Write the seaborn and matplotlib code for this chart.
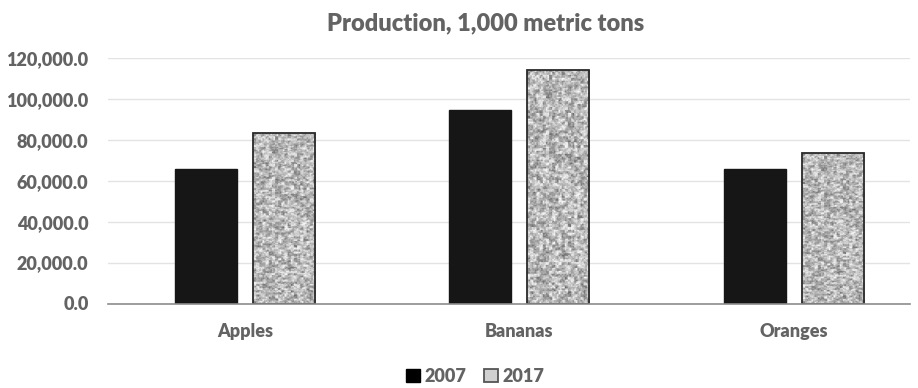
import numpy as np
import pandas as pd
import matplotlib
matplotlib.use("Agg")
import matplotlib.pyplot as plt
import seaborn as sns
from matplotlib.patches import Patch

categories = ["Apples", "Bananas", "Oranges"]
years = ["2007", "2017"]
values_2007 = [65900, 94500, 65600]
values_2017 = [83300, 114100, 73500]
yticks = [0, 20000, 40000, 60000, 80000, 100000, 120000]

df = pd.DataFrame({
    "fruit": categories * 2,
    "year": [years[0]] * 3 + [years[1]] * 3,
    "value": values_2007 + values_2017,
})

sns.set_style("white")
plt.rcParams["font.family"] = ["Lato", "DejaVu Sans"]
W = "heavy"
TXT = "#636363"

fig = plt.figure(figsize=(9.18, 3.88), dpi=100)
ax = fig.add_axes([108 / 918, 1 - 303.5 / 388, 802 / 918, 245.5 / 388])

sns.barplot(data=df, x="fruit", y="value", hue="year", palette=["#161616", "#c4c4c4"],
            width=0.569, gap=0.204, ax=ax, legend=False, saturation=1)

XLIM = (-0.5, 2.424)
ax.set_ylim(0, 120000)
ax.set_xlim(*XLIM)
ax.set_yticks(yticks)
ax.set_yticklabels([f"{v:,.1f}" for v in yticks])
ax.yaxis.grid(True, color="#e3e3e3", linewidth=1)
ax.set_axisbelow(True)
for s in ["top", "right", "left"]:
    ax.spines[s].set_visible(False)
ax.spines["bottom"].set_color("#8c8c8c")
ax.spines["bottom"].set_linewidth(1.2)
ax.tick_params(axis="both", length=0, colors=TXT, labelsize=13)
ax.tick_params(axis="y", pad=14)
ax.tick_params(axis="x", pad=14)
for lab in ax.get_xticklabels() + ax.get_yticklabels():
    lab.set_fontweight(W)
    lab.set_color(TXT)
ax.set_xlabel("")
ax.set_ylabel("")

# stipple texture for 2017 bars (decorative only)
rng = np.random.default_rng(3)
coarse = rng.random((80, 20))
mid = rng.random((160, 40))
fine = rng.random((320, 80))
tex = (0.45 * np.kron(coarse, np.ones((4, 4))) + 0.35 * np.kron(mid, np.ones((2, 2)))
       + 0.2 * fine)
tex = np.clip(0.35 + 0.75 * tex, 0, 0.97)

patches = ax.patches
n = len(categories)
for i, p in enumerate(patches[:2 * n]):
    if i >= n:
        p.set_edgecolor("#2a2a2a")
        p.set_linewidth(1.3)
        x0, y0 = p.get_x(), p.get_y()
        w, h = p.get_width(), p.get_height()
        im = ax.imshow(tex, cmap="gray", vmin=0, vmax=1, aspect="auto",
                       extent=[x0, x0 + w, y0, y0 + h], zorder=p.get_zorder() + 0.1,
                       interpolation="bilinear")
        im.set_clip_path(p)
        p.set_facecolor("none")
        p.set_zorder(p.get_zorder() + 0.2)
    else:
        p.set_edgecolor("#161616")
ax.set_xlim(*XLIM)
ax.set_ylim(0, 120000)

fig.text(486 / 918, 1 - 23 / 388, "Production, 1,000 metric tons", ha="center", va="center",
         fontsize=17, fontweight=W, color=TXT)

handles = [
    Patch(facecolor="#000000", edgecolor="#000000", label="2007"),
    Patch(facecolor="#d0d0d0", edgecolor="#555555", linewidth=1.3, label="2017"),
]
leg = fig.legend(handles=handles, loc="center", bbox_to_anchor=(475 / 918, 1 - 376 / 388),
                 ncol=2, frameon=False, handlelength=0.75, handleheight=0.75,
                 handletextpad=0.25, columnspacing=1.0,
                 prop={"weight": W, "size": 13})
for t in leg.get_texts():
    t.set_color(TXT)

fig.savefig("out.png", dpi=100)
